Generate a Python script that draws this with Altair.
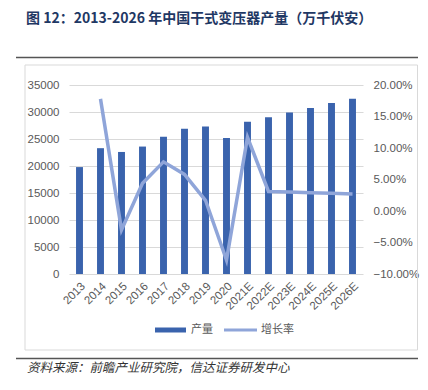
import altair as alt
import pandas as pd

years = ["2013", "2014", "2015", "2016", "2017", "2018", "2019", "2020",
         "2021E", "2022E", "2023E", "2024E", "2025E", "2026E"]
production = [19800, 23300, 22600, 23600, 25400, 26900, 27300, 25200,
              28200, 29050, 29900, 30750, 31650, 32450]
growth = [None, 0.178, -0.030, 0.044, 0.078, 0.058, 0.017, -0.078,
          0.117, 0.031, 0.030, 0.029, 0.028, 0.027]

title_text = "图 12：2013-2026 年中国干式变压器产量（万千伏安）"
source_text = "资料来源：前瞻产业研究院，信达证券研发中心"
legend_labels = ["产量", "增长率"]

BAR = "#3A63AD"
LINE = "#8FA5D9"
NUM_FONT = "Liberation Sans"
CJK = "Noto Sans CJK SC"

df = pd.DataFrame({"year": years, "prod": production, "growth": growth})
dummy = pd.DataFrame({"a": [0]})

xenc = alt.X("year:N", sort=years, title=None,
             scale=alt.Scale(paddingInner=0.67, paddingOuter=0.335),
             axis=alt.Axis(labelAngle=315, labelFontSize=11.5, labelColor="#595959",
                           labelFont=NUM_FONT, ticks=False, domain=False, labelPadding=6))

bars = alt.Chart(df).mark_bar(color=BAR).encode(
    x=xenc,
    y=alt.Y("prod:Q", title=None,
            scale=alt.Scale(domain=[0, 35000], nice=False),
            axis=alt.Axis(values=list(range(0, 35001, 5000)), labelFontSize=11.5,
                          labelColor="#595959", labelFont=NUM_FONT, ticks=False,
                          domain=False, grid=True, gridColor="#d9d9d9",
                          labelPadding=10, format="d")),
)

line = alt.Chart(df).transform_filter("datum.growth != null").mark_line(
    color=LINE, strokeWidth=3.5).encode(
    x=alt.X("year:N", sort=years),
    y=alt.Y("growth:Q", title=None,
            scale=alt.Scale(domain=[-0.1, 0.2], nice=False),
            axis=alt.Axis(orient="right", values=[-0.1, -0.05, 0, 0.05, 0.1, 0.15, 0.2],
                          format=".2%", labelFontSize=11.5, labelColor="#595959",
                          labelFont=NUM_FONT, ticks=False, domain=False, grid=False,
                          labelPadding=10)),
)

def hrule(x1, x2, y, color, w):
    return alt.Chart(dummy).mark_rule(color=color, strokeWidth=w).encode(
        x=alt.value(x1), x2=alt.value(x2), y=alt.value(y))

border = alt.Chart(dummy).mark_rect(fillOpacity=0, stroke="#d9d9d9", strokeWidth=1).encode(
    x=alt.value(-44), x2=alt.value(348.5), y=alt.value(-20), y2=alt.value(265))

top_sep = hrule(-53, 349, -27.5, "#555555", 1.5)
bot_sep = hrule(-53, 349, 273.5, "#555555", 1.5)

title = alt.Chart(dummy).mark_text(text=title_text, align="left", baseline="middle",
                                   font=CJK, fontSize=14, fontWeight="bold",
                                   color="#1F3864").encode(x=alt.value(-43), y=alt.value(-66))
source = alt.Chart(dummy).mark_text(text=source_text, align="left", baseline="middle",
                                    font=CJK, fontSize=12.5, fontStyle="italic",
                                    color="#333333").encode(x=alt.value(-42), y=alt.value(283))

leg_bar = hrule(86, 117, 245, BAR, 5)
leg_bar_t = alt.Chart(dummy).mark_text(text=legend_labels[0], align="left", baseline="middle",
                                       font=CJK, fontSize=11, color="#595959").encode(
    x=alt.value(122), y=alt.value(245))
leg_line = hrule(155, 188, 245, LINE, 3)
leg_line_t = alt.Chart(dummy).mark_text(text=legend_labels[1], align="left", baseline="middle",
                                        font=CJK, fontSize=11, color="#595959").encode(
    x=alt.value(192), y=alt.value(245))

main = alt.layer(bars, line).resolve_scale(y="independent")

chart = alt.layer(border, top_sep, bot_sep, title, source, leg_bar, leg_bar_t,
                  leg_line, leg_line_t, main).properties(
    width=294, height=189,
    autosize=alt.AutoSizeParams(type="none"),
    padding={"left": 61, "top": 77, "right": 57, "bottom": 108},
).configure_view(stroke=None)

chart.save("out.html", embed_options={"renderer": "svg", "actions": False})
